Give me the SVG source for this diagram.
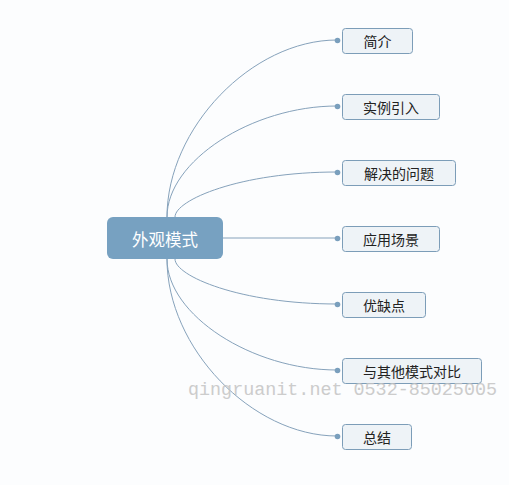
<svg xmlns="http://www.w3.org/2000/svg" width="509" height="485" viewBox="0 0 509 485">
<style>
.bg{fill:#fcfdfe}
.root{fill:#77a1c1}
.roott{font-family:"Noto Sans CJK SC","Noto Sans",sans-serif;font-size:16.5px;fill:#ffffff;text-anchor:middle;dominant-baseline:central}
.box{fill:#eef3f7;stroke:#7c9db8;stroke-width:1}
.t{font-family:"Noto Sans CJK SC","Noto Sans",sans-serif;font-size:14px;fill:#222;text-anchor:middle;dominant-baseline:central}
.c{fill:none;stroke:#86a2bb;stroke-width:1}
.dot{fill:#7a9fbd}
.wm{font-family:"Liberation Mono",monospace;font-size:18.4px;fill:#c4c4c4;opacity:0.85}
</style>
<rect class="bg" width="509" height="485"/>
<g id="connectors">
<path class="c" d="M167,217 C167,128 252,40 337,40"/>
<path class="c" d="M167,217 C167,161 252,106 337,106"/>
<path class="c" d="M175,217 C175,200 240,172 337,172"/>
<path class="c" d="M223,238 L337,238"/>
<path class="c" d="M175,259 C175,276 240,304 337,304"/>
<path class="c" d="M167,259 C167,315 252,370 337,370"/>
<path class="c" d="M167,259 C167,348 252,436 337,436"/>
<circle class="dot" cx="337.5" cy="40.5" r="2.8"/>
<circle class="dot" cx="337.5" cy="106.5" r="2.8"/>
<circle class="dot" cx="337.5" cy="172.5" r="2.8"/>
<circle class="dot" cx="337.5" cy="238.5" r="2.8"/>
<circle class="dot" cx="337.5" cy="304.5" r="2.8"/>
<circle class="dot" cx="337.5" cy="370.5" r="2.8"/>
<circle class="dot" cx="337.5" cy="436.5" r="2.8"/>
</g>
<g id="root">
<rect class="root" x="107" y="217" width="116" height="42" rx="6"/>
<text class="roott" x="165" y="239">外观模式</text>
</g>
<g id="n1"><rect class="box" x="342.5" y="28.5" width="70" height="25" rx="3"/><text class="t" x="377.5" y="41">简介</text></g>
<g id="n2"><rect class="box" x="342.5" y="94.5" width="97" height="25" rx="3"/><text class="t" x="391" y="107">实例引入</text></g>
<g id="n3"><rect class="box" x="342.5" y="160.5" width="113" height="25" rx="3"/><text class="t" x="399" y="173">解决的问题</text></g>
<g id="n4"><rect class="box" x="342.5" y="226.5" width="97" height="25" rx="3"/><text class="t" x="391" y="239">应用场景</text></g>
<g id="n5"><rect class="box" x="342.5" y="292.5" width="83" height="25" rx="3"/><text class="t" x="384" y="305">优缺点</text></g>
<g id="n6"><rect class="box" x="342.5" y="358.5" width="139" height="25" rx="3"/><text class="t" x="412" y="371">与其他模式对比</text></g>
<g id="n7"><rect class="box" x="342.5" y="424.5" width="69" height="25" rx="3"/><text class="t" x="377" y="437">总结</text></g>
<text class="wm" x="188" y="395">qingruanit.net 0532-85025005</text>
</svg>
